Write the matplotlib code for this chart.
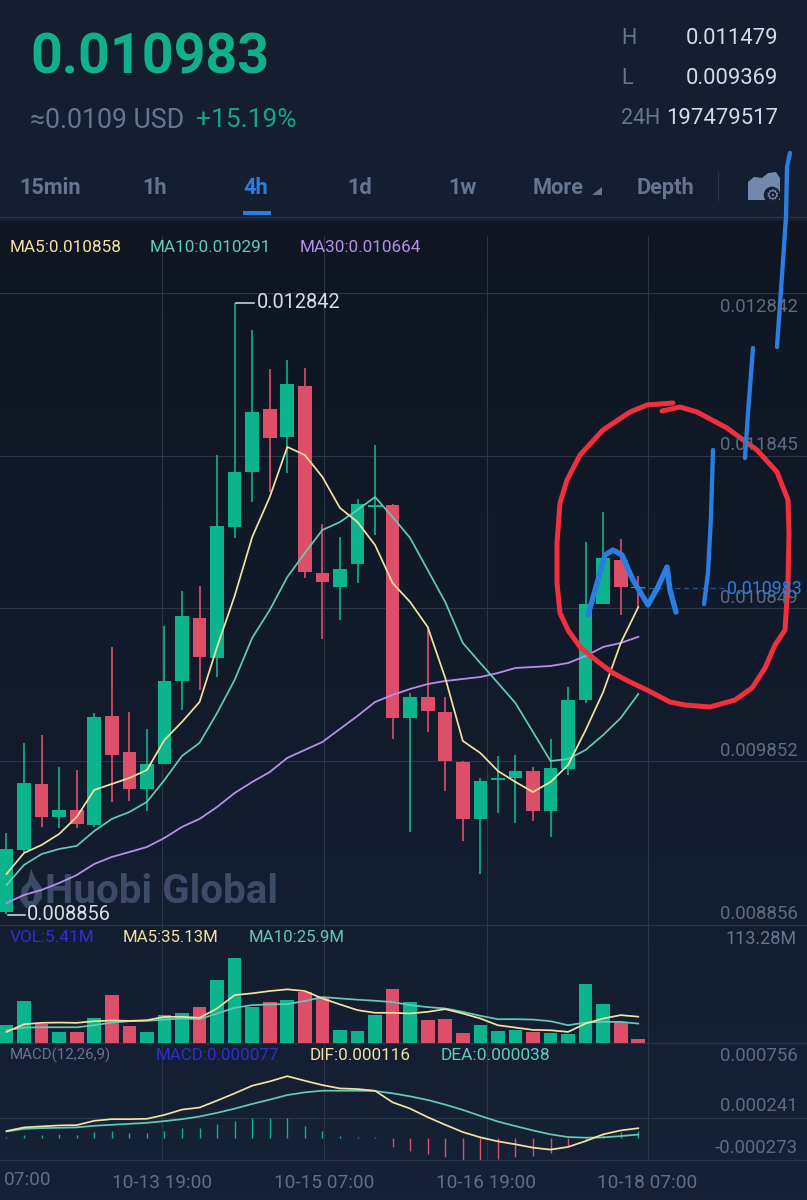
import numpy as np
import matplotlib
matplotlib.use("Agg")
import matplotlib.pyplot as plt
from matplotlib.colors import LinearSegmentedColormap
from matplotlib.patches import Polygon, Rectangle

plt.rcParams['font.family'] = ['Roboto', 'DejaVu Sans']

# ---- values (prices in millionths, volume in millions) ----
opens = [8869,9274,9704,9489,9534,9437,10148,9913,9671,9835,10376,10787,10526,11381,11739,12150,11968,12301,11081,10989,11139,11514,11524,10135,10272,10174,9848,9476,9733,9743,9789,9528,9802,10252,10878,11165,10989]
highs = [9384,9972,10024,9815,9795,10167,10598,10174,10063,10735,10963,10996,11850,12842,12666,12411,12470,12418,11400,11315,11563,11916,11530,10298,10728,10272,9854,9743,9887,9893,9815,9998,10337,11283,11479,11302,11060]
lows = [8856,9260,9424,9417,9417,9424,9587,9593,9528,9835,10187,10317,10402,11309,11544,11609,11733,11048,10650,10774,11015,11328,9998,9391,10043,9658,9332,9117,9515,9450,9463,9358,9763,10232,10878,10807,10860]
closes = [9280,9711,9489,9534,9443,10141,9893,9671,9835,10376,10800,10533,11387,11739,12131,11961,12314,11087,11022,11107,11531,11522,10135,10272,10180,9854,9476,9724,9741,9789,9528,9808,10252,10878,11178,10989,10983]
ma5 = [9117,9254,9306,9378,9489,9665,9704,9743,9795,9991,10109,10239,10598,10931,11315,11576,11903,11850,11707,11505,11413,11263,11015,10891,10728,10396,9985,9906,9789,9717,9652,9717,9828,10056,10304,10624,10858]
ma10 = [9045,9176,9247,9280,9300,9397,9476,9521,9587,9730,9887,9972,10167,10383,10657,10839,11054,11211,11361,11413,11492,11576,11446,11309,11100,10891,10624,10493,10363,10232,10043,9854,9867,9926,10024,10135,10291]
ma30 = [8928,8980,9013,9058,9110,9182,9228,9260,9293,9352,9424,9476,9554,9645,9717,9782,9874,9926,9978,10063,10148,10239,10285,10324,10356,10376,10389,10402,10428,10461,10467,10474,10493,10539,10598,10624,10664]
volume = [24.6,56,26,14.8,14.8,33.6,64,22.4,14.8,37.2,39.4,48.4,83.7,113.28,48.4,54.2,57.3,68.5,61.8,17,15.7,38,72.1,54.2,31.3,32.7,13.4,24.6,16.1,17,14.8,13.9,12.5,78.3,52.4,28.2,5.41]
vol_ma5 = [14.8,25.1,26.9,27.3,26.9,29.1,30,29.5,30.4,34.9,34.9,33.6,46.1,64,66.3,69.4,71.6,69.4,59.5,51.5,43.9,40.3,40.3,39.4,41.6,45.2,39.4,32.7,23.7,20.6,17.5,17,14.8,26,32.7,37.2,35.13]
vol_ma10 = [17,20.6,21,21,21,23.7,27.3,29.1,29.5,31.3,32.7,31.8,39.4,47,50.6,51.5,51.9,56,61.3,59.5,57.8,56.4,54.6,50.6,47.9,46.1,41.6,36.3,31.8,31.8,31.3,29.1,23.7,27.3,28.2,28.2,25.9]
dif = [81,126,138,150,154,207,227,227,231,279,344,369,454,543,636,689,753,697,644,603,595,575,433,356,251,158,69,4,-45,-81,-122,-146,-113,-41,41,89,116]
dea = [77,109,117,121,126,146,158,170,182,203,227,259,304,356,413,466,522,555,575,575,575,571,543,506,462,405,340,267,198,142,89,41,8,0,4,20,38]
macd_hist = [8,28,36,41,36,69,77,61,57,85,122,122,162,203,239,239,239,142,77,16,12,12,-113,-166,-194,-235,-271,-271,-255,-235,-223,-182,-101,-41,37,69,77]
price_ticks = ["0.012842", "0.011845", "0.010849", "0.009852", "0.008856"]
time_labels = ["10-13 19:00", "10-15 07:00", "10-16 19:00", "10-18 07:00"]
tabs = ["15min", "1h", "4h", "1d", "1w", "More", "Depth"]

# ---- hand-drawn annotation strokes on the screenshot (pixels) ----
red_x = [673,647,630,603,580,567,560,557,557,560,568,580,597,613,630,647,670,685,710,735,752,765,775,785,788,789,788,777,757,727,697,680,662]
red_y = [403,405,412,430,455,480,503,543,583,613,630,647,661,673,682,690,702,705,707,700,688,668,645,630,583,533,500,472,450,428,412,407,411]
blue_strokes = [
    ([588,598,605,613,622,633,648,658,667,670,676], [615,580,555,550,555,580,605,587,567,590,612], 3.9),
    ([704,708,711,713], [604,573,517,450], 3.1),
    ([745,748,753], [458,413,348], 3.1),
    ([777,781,786,787,790], [347,290,217,167,153], 3.1),
]

UNIT = 1e-6
W, H = 807, 1200
GREEN, RED = "#0bb48c", "#dd4f69"
YEL, TEAL, PUR = "#f6e29f", "#62cbb6", "#b78fe9"
GRAY, GRID = "#66758f", "#2a3546"
BLUE = "#2a7de1"
AXIS_TXT = "#5d6b82"

def px_axes(fig, y1, y2, **kw):
    return fig.add_axes([0, 1 - y2 / H, 1, (y2 - y1) / H], **kw)

fig = plt.figure(figsize=(W / 100, H / 100), dpi=100)

# background
bg = px_axes(fig, 0, H, zorder=0)
cmap = LinearSegmentedColormap.from_list("bg", [(0, "#141e30"), (217 / H, "#141e30"), (218 / H, "#0f1622"),
                                                (600 / H, "#111a2a"), (1, "#152136")])
bg.imshow(np.linspace(0, 1, H)[:, None], aspect="auto", cmap=cmap, extent=(0, W, H, 0), vmin=0, vmax=1)
bg.set_xlim(0, W); bg.set_ylim(H, 0); bg.axis("off")
# watermark
bg.text(45, 892, "Huobi Global", color="#3d4c66", fontsize=29, fontweight="bold", va="center", ha="left")
bg.add_patch(Polygon([(31,868),(35,878),(42,888),(42,898),(36,906),(26,908),(20,900),(22,888),(28,882)], closed=True, color="#3d4c66", lw=0))
bg.add_patch(Polygon([(31,885),(35,893),(33,901),(28,901),(27,893)], closed=True, color="#141d2d", lw=0))

xs = np.arange(len(opens))
xlim = (-6.5 / 17.55, (W - 6.5) / 17.55)
grid_x = [(x - 6.5) / 17.55 for x in (162.4, 324, 486.5, 647.5)]
up = [c >= o for o, c in zip(opens, closes)]
colors = [GREEN if u else RED for u in up]

def style(ax):
    ax.patch.set_alpha(0)
    ax.set_xlim(*xlim)
    ax.set_xticks(grid_x)
    ax.tick_params(length=0, labelbottom=False, labelleft=False)
    ax.grid(True, color=GRID, lw=0.8, zorder=1)
    ax.set_axisbelow(True)
    for s in ax.spines.values():
        s.set_visible(False)

# main candlestick panel: y pixels 236..925
ax = px_axes(fig, 236, 925, zorder=1)
style(ax)
o, h, l, c = (np.array(a) * UNIT for a in (opens, highs, lows, closes))
ax.vlines(xs, l, h, colors=colors, lw=1.2, zorder=3)
ax.bar(xs, np.maximum(np.abs(c - o), 2 * UNIT), bottom=np.minimum(o, c), width=0.78, color=colors, zorder=3)
ax.plot(xs, np.array(ma30) * UNIT, color=PUR, lw=1.3, zorder=4)
ax.plot(xs, np.array(ma10) * UNIT, color=TEAL, lw=1.25, zorder=4)
ax.plot(xs, np.array(ma5) * UNIT, color=YEL, lw=1.25, zorder=4)
ax.set_ylim(0.008784, 0.013279)
ax.set_yticks([0.012907, 0.011845, 0.010849, 0.009852])
ax.axhline(0.010983, xmin=640 / W, xmax=726 / W, color=BLUE, lw=0.9, ls=(0, (4, 3)), alpha=0.6, zorder=2)

# volume panel: y pixels 925..1043
vol = px_axes(fig, 925, 1043, zorder=1)
style(vol)
vol.bar(xs, volume, width=0.78, color=colors, zorder=3)
vol.plot(xs, vol_ma10, color=TEAL, lw=1.25, zorder=4)
vol.plot(xs, vol_ma5, color=YEL, lw=1.25, zorder=4)
vol.set_ylim(0, 157.5)
vol.set_yticks([])
for side in ("top", "bottom"):
    vol.spines[side].set_visible(True); vol.spines[side].set_color(GRID); vol.spines[side].set_linewidth(0.8)

# MACD panel: y pixels 1043..1160
mac = px_axes(fig, 1043, 1160, zorder=1)
style(mac)
hist = np.array(macd_hist) * UNIT
mac.vlines(xs, 0, hist, colors=[GREEN if v >= 0 else RED for v in hist], lw=1.0, zorder=3)
mac.plot(xs, np.array(dea) * UNIT, color=TEAL, lw=1.25, zorder=4)
mac.plot(xs, np.array(dif) * UNIT, color=YEL, lw=1.25, zorder=4)
mac.set_ylim(-0.000273, 0.001159)
mac.set_yticks([0.000241])
mac.spines["bottom"].set_visible(True); mac.spines["bottom"].set_color(GRID); mac.spines["bottom"].set_linewidth(0.8)
mac.set_xticks(grid_x)
mac.set_xticklabels(time_labels)
mac.tick_params(axis="x", labelbottom=True, labelsize=13.7, labelcolor="#5f6e88", pad=10)

# overlay: header, labels, hand drawing
ov = px_axes(fig, 0, H, zorder=5)
ov.set_xlim(0, W); ov.set_ylim(H, 0); ov.axis("off")

def T(x, y, s, color, size, ha="left", weight="normal"):
    ov.text(x, y, s, color=color, fontsize=size, ha=ha, va="center", fontweight=weight)

T(30, 58, "0.010983", "#10b08c", 40, weight="bold")
T(30, 120, "≈0.0109 USD", GRAY, 19.2)
T(196, 120, "+15.19%", "#12a586", 19)
for y, k, v in [(39, "H", "0.011479"), (78, "L", "0.009369"), (118, "24H", "197479517")]:
    T(621, y, k, GRAY, 15.5)
    T(778, y, v, "#d5dae3", 15.8, ha="right")
for s, x in zip(tabs, (19, 142, 243, 347, 448, 533, 637)):
    T(x, 188, s, BLUE if s == "4h" else GRAY, 15.7, weight="bold")
ov.add_patch(Polygon([(592,195),(602,195),(602,187)], closed=True, color=GRAY, lw=0))
ov.add_patch(Rectangle((243, 211), 28, 4, color=BLUE, lw=0))
ov.plot([0, W], [216.5, 216.5], color=GRID, lw=1)
ov.plot([718, 718], [172, 200], color=GRID, lw=0.8)
ov.add_patch(Polygon([(748,200),(748,182),(754,177),(762,178),(768,173),(776,172),(780,178),(780,200)], closed=True, color="#7488ad", lw=0))
ov.text(772, 195, "⚙", color="#7488ad", fontsize=11, ha="center", va="center", family="DejaVu Sans",
        bbox=dict(boxstyle="circle,pad=0.05", fc="#141e30", ec="none"))

T(10, 247, "MA5:0.010858", YEL, 12.3)
T(150, 247, "MA10:0.010291", TEAL, 12.3)
T(300, 247, "MA30:0.010664", PUR, 12.3)
for s, y in zip(price_ticks, (307, 445, 598, 751, 914)):
    T(798, y, s, AXIS_TXT, 13.4, ha="right")
T(727, 589, "0.010983", BLUE, 12.8)
ov.plot([236, 254], [303, 303], color="#d8dde6", lw=1.1)
T(257, 303, "0.012842", "#d8dde6", 14.4)
ov.plot([8, 25], [915, 915], color="#d8dde6", lw=1.1)
T(27, 915, "0.008856", "#d8dde6", 14.4)

T(10, 937, "VOL:5.41M", "#2d2fd0", 12.4)
T(123, 937, "MA5:35.13M", YEL, 12.1)
T(249, 937, "MA10:25.9M", TEAL, 12.1)
T(797, 939, "113.28M", GRAY, 13, ha="right")
T(10, 1055, "MACD(12,26,9)", "#66738c", 10.8)
T(156, 1055, "MACD:0.000077", "#2d2fd0", 12.2)
T(310, 1055, "DIF:0.000116", YEL, 12.3)
T(441, 1055, "DEA:0.000038", TEAL, 12.5)
T(798, 1056, "0.000756", AXIS_TXT, 13.4, ha="right")
T(798, 1106, "0.000241", AXIS_TXT, 13.4, ha="right")
T(798, 1148, "-0.000273", AXIS_TXT, 13.4, ha="right")
T(4, 1180, "07:00", "#5f6e88", 13.7)

ov.plot(red_x, red_y, color="#f0303f", lw=3.6, solid_capstyle="round", solid_joinstyle="round")
for bx, by, lw in blue_strokes:
    ov.plot(bx, by, color=BLUE, lw=lw, solid_capstyle="round", solid_joinstyle="round")

fig.savefig("out.png", dpi=100)
